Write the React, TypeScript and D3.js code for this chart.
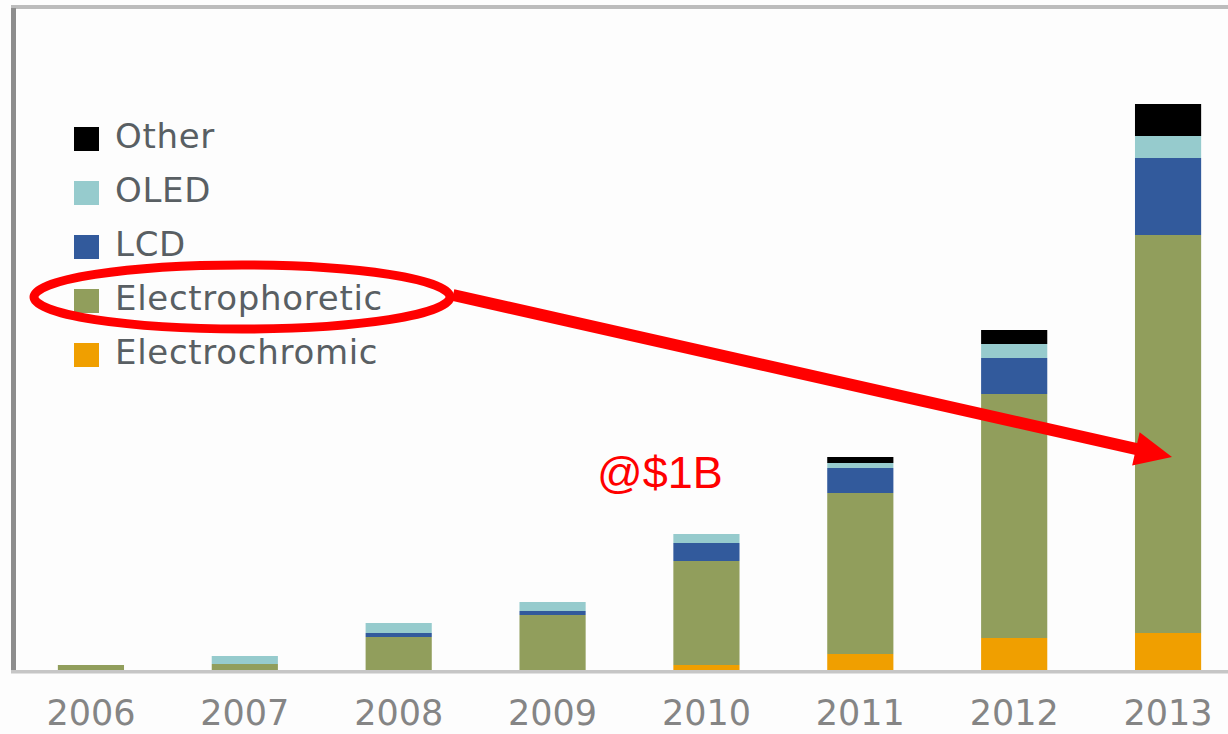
import React from "react";
import * as d3 from "d3";

const years = ["2006", "2007", "2008", "2009", "2010", "2011", "2012", "2013"];
const seriesNames = ["Electrochromic", "Electrophoretic", "LCD", "OLED", "Other"];
const electrochromic = [0, 0, 0, 1, 6, 17, 33, 38];
const electrophoretic = [6, 7, 34, 55, 104, 161, 244, 398];
const lcd = [0, 0, 4, 4, 18, 25, 36, 77];
const oled = [0, 8, 10, 9, 9, 5, 14, 22];
const other = [0, 0, 0, 0, 0, 6, 14, 32];
const colors = ["#f09f00", "#919e5c", "#325a9c", "#96cbcd", "#000000"];
const legendOrder = ["Other", "OLED", "LCD", "Electrophoretic", "Electrochromic"];
const annotation = "@$1B";

const W = 1228;
const H = 734;

export default function App() {
  const table = years.map((y, i) => ({
    year: y,
    Electrochromic: electrochromic[i],
    Electrophoretic: electrophoretic[i],
    LCD: lcd[i],
    OLED: oled[i],
    Other: other[i],
  }));
  const stacked = d3.stack<any>().keys(seriesNames)(table);

  const x = d3
    .scaleBand<string>()
    .domain(years)
    .range([14, 1245])
    .paddingInner(0.57)
    .paddingOuter(0.285);
  const y = d3.scaleLinear().domain([0, 663]).range([671, 8]);

  const colorOf = d3.scaleOrdinal<string, string>().domain(seriesNames).range(colors);

  // arrow geometry
  const ax0 = 453, ay0 = 295, ax1 = 1172, ay1 = 457;
  const dx = ax1 - ax0, dy = ay1 - ay0;
  const len = Math.hypot(dx, dy);
  const ux = dx / len, uy = dy / len;
  const headLen = 37, headHalf = 17;
  const bx = ax1 - ux * headLen, by = ay1 - uy * headLen;
  const px = -uy, py = ux;
  const head = [
    [ax1, ay1],
    [bx + px * headHalf, by + py * headHalf],
    [bx - px * headHalf, by - py * headHalf],
  ];

  return (
    <div style={{ position: "fixed", left: 0, top: 0 }}>
      <svg width={W} height={H} style={{ display: "block", background: "#fdfdfd" }}>
        {/* frame */}
        <rect x={11} y={5} width={W - 11} height={4} fill="#bcbcbc" />
        <rect x={11} y={8} width={5} height={664} fill="#8d8d8d" />

        {/* bars */}
        {stacked.map((s) => (
          <g key={s.key} fill={colorOf(s.key)}>
            {s.map((d, i) => {
              const h = y(d[0]) - y(d[1]);
              if (h <= 0) return null;
              return (
                <rect
                  key={i}
                  x={x(years[i])}
                  y={y(d[1])}
                  width={x.bandwidth()}
                  height={h}
                />
              );
            })}
          </g>
        ))}

        {/* bottom axis */}
        <rect x={11} y={670} width={W - 11} height={3.5} fill="#c6c6c6" />
        {years.map((yr) => (
          <text
            key={yr}
            x={(x(yr) as number) + x.bandwidth() / 2}
            y={725}
            textAnchor="middle"
            fontFamily="DejaVu Sans, sans-serif"
            fontSize={35}
            fill="#858585"
          >
            {yr}
          </text>
        ))}

        {/* legend */}
        {legendOrder.map((name, i) => {
          const base = 148 + i * 54;
          return (
            <g key={name}>
              <rect x={74} y={base - 21} width={25} height={24} fill={colorOf(name)} />
              <text
                x={115}
                y={base}
                fontFamily="DejaVu Sans, sans-serif"
                fontSize={34}
                letterSpacing={0.7}
                fill="#595f63"
              >
                {name}
              </text>
            </g>
          );
        })}

        {/* annotations */}
        <ellipse cx={242} cy={297} rx={208} ry={32} fill="none" stroke="#ff0000" strokeWidth={9} />
        <line x1={ax0} y1={ay0} x2={bx + ux * 2} y2={by + uy * 2} stroke="#ff0000" strokeWidth={12} />
        <polygon points={head.map((p) => p.join(",")).join(" ")} fill="#ff0000" />
        <text
          x={597}
          y={488}
          fontFamily="Liberation Sans, Arial, sans-serif"
          fontSize={45}
          fill="#ff0000"
        >
          {annotation}
        </text>
      </svg>
    </div>
  );
}
